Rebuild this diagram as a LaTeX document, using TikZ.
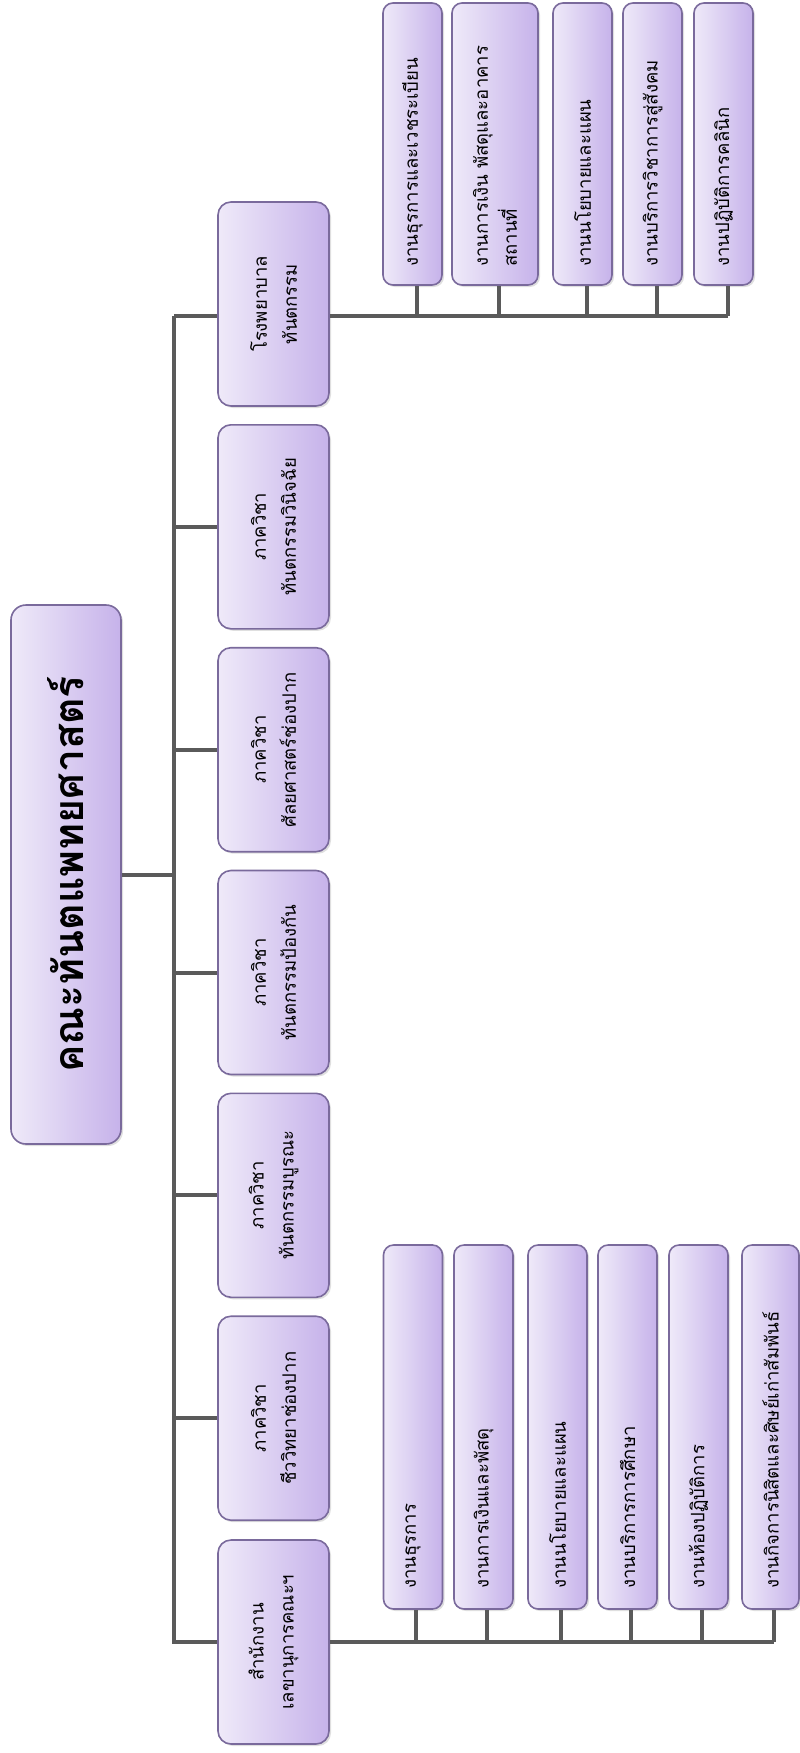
\documentclass[tikz,border=0pt]{standalone}
\usepackage{fontspec}
\newfontfamily\thaifont[Script=Thai]{Loma}
\usetikzlibrary{shadows}
\definecolor{boxL}{HTML}{EFEAF9}
\definecolor{boxR}{HTML}{C6B2EA}
\definecolor{boxB}{HTML}{7A6A9C}
\definecolor{connC}{HTML}{5A5A5A}
\tikzset{
  box/.style={draw=boxB, line width=1.6pt, rounded corners=13pt, left color=boxL, right color=boxR,
    drop shadow={opacity=0.25, shadow xshift=2pt, shadow yshift=-2pt}, inner sep=0pt},
  lone/.style={box, minimum width=111pt, minimum height=204pt},
  ltwo/.style={box, rounded corners=10pt},
  connector/.style={draw=connC, line width=4pt},
  lonetxt/.style={font=\thaifont\fontsize{18.5}{30}\selectfont, align=center, rotate=90, inner sep=0pt},
  ltwotxt/.style={font=\thaifont\fontsize{18.5}{29}\selectfont, align=left, rotate=90, anchor=west, inner sep=0pt},
}
\begin{document}
\begin{tikzpicture}[x=1pt, y=-1pt]
\useasboundingbox (0,0) rectangle (800,1753);
\fill[white] (0,0) rectangle (800,1753);

% title
\node[box, rounded corners=15pt, minimum width=110pt, minimum height=539pt] (title) at (66,874.5) {};
\node[font=\thaifont\bfseries\fontsize{41}{46}\selectfont, rotate=90] (titletxt) at (title.center) {คณะทันตแพทยศาสตร์};

% level 1 boxes
\node[lone] (b1) at (273.5,304) {};
\node[lone] (b2) at (273.5,526.8) {};
\node[lone] (b3) at (273.5,749.7) {};
\node[lone] (b4) at (273.5,972.5) {};
\node[lone] (b5) at (273.5,1195.3) {};
\node[lone] (b6) at (273.5,1418.2) {};
\node[lone] (b7) at (273.5,1642) {};
\node[lonetxt] (t1) at (b1.center) {โรงพยาบาล\\ทันตกรรม};
\node[lonetxt] (t2) at (b2.center) {ภาควิชา\\ทันตกรรมวินิจฉัย};
\node[lonetxt] (t3) at (b3.center) {ภาควิชา\\ศัลยศาสตร์ช่องปาก};
\node[lonetxt] (t4) at (b4.center) {ภาควิชา\\ทันตกรรมป้องกัน};
\node[lonetxt] (t5) at (b5.center) {ภาควิชา\\ทันตกรรมบูรณะ};
\node[lonetxt] (t6) at (b6.center) {ภาควิชา\\ชีววิทยาช่องปาก};
\node[lonetxt] (t7) at (b7.center) {สำนักงาน\\เลขานุการคณะฯ};

% hospital group
\node[ltwo, minimum width=59pt, minimum height=282pt] (h1) at (412.5,144) {};
\node[ltwo, minimum width=86pt, minimum height=282pt] (h2) at (495,144) {};
\node[ltwo, minimum width=59pt, minimum height=282pt] (h3) at (582.5,144) {};
\node[ltwo, minimum width=59pt, minimum height=282pt] (h4) at (652.5,144) {};
\node[ltwo, minimum width=59pt, minimum height=282pt] (h5) at (723.5,144) {};
\node[ltwotxt] (ht1) at ([yshift=19pt]h1.south) {งานธุรการและเวชระเบียน};
\node[ltwotxt] (ht2) at ([yshift=19pt]h2.south) {งานการเงิน พัสดุและอาคาร\\สถานที่};
\node[ltwotxt] (ht3) at ([yshift=19pt]h3.south) {งานนโยบายและแผน};
\node[ltwotxt] (ht4) at ([yshift=19pt]h4.south) {งานบริการวิชาการสู่สังคม};
\node[ltwotxt] (ht5) at ([yshift=19pt]h5.south) {งานปฏิบัติการคลินิก};

% office group
\node[ltwo, minimum width=59pt, minimum height=364pt] (o1) at (413,1427) {};
\node[ltwo, minimum width=59pt, minimum height=364pt] (o2) at (483.5,1427) {};
\node[ltwo, minimum width=59pt, minimum height=364pt] (o3) at (557.5,1427) {};
\node[ltwo, minimum width=59pt, minimum height=364pt] (o4) at (627.5,1427) {};
\node[ltwo, minimum width=59pt, minimum height=364pt] (o5) at (698.5,1427) {};
\node[ltwo, minimum width=57pt, minimum height=364pt] (o6) at (770.5,1427) {};
\node[ltwotxt] (ot1) at ([yshift=21pt]o1.south) {งานธุรการ};
\node[ltwotxt] (ot2) at ([yshift=21pt]o2.south) {งานการเงินและพัสดุ};
\node[ltwotxt] (ot3) at ([yshift=21pt]o3.south) {งานนโยบายและแผน};
\node[ltwotxt] (ot4) at ([yshift=21pt]o4.south) {งานบริการการศึกษา};
\node[ltwotxt] (ot5) at ([yshift=21pt]o5.south) {งานห้องปฏิบัติการ};
\node[ltwotxt] (ot6) at ([yshift=21pt]o6.south) {งานกิจการนิสิตและศิษย์เก่าสัมพันธ์};

% connectors
\coordinate (jt) at (174,316);
\coordinate (ht) at (b1.east |- jt);
\foreach \b in {h1,h2,h3,h4,h5} \coordinate (\b-c) at ([xshift=4pt]\b.south);
\foreach \b in {o1,o2,o3,o4,o5,o6} \coordinate (\b-c) at ([xshift=3pt]\b.south);
\draw[connector] (title.east) -- (title.east -| jt);
\draw[connector] (jt) -- (jt |- b7.west) -- (b7.west);
\draw[connector] (jt) -- (jt -| b1.west);
\foreach \b in {b2,b3,b4,b5,b6} \draw[connector] (\b.west -| jt) -- (\b.west);
\draw[connector] (ht) -- (ht -| h5-c);
\foreach \b in {h1,h2,h3,h4,h5} \draw[connector] (\b-c) -- (\b-c |- ht);
\draw[connector] (b7.east) -- (b7.east -| o6-c);
\foreach \b in {o1,o2,o3,o4,o5,o6} \draw[connector] (\b-c) -- (\b-c |- b7.east);
\end{tikzpicture}
\end{document}
